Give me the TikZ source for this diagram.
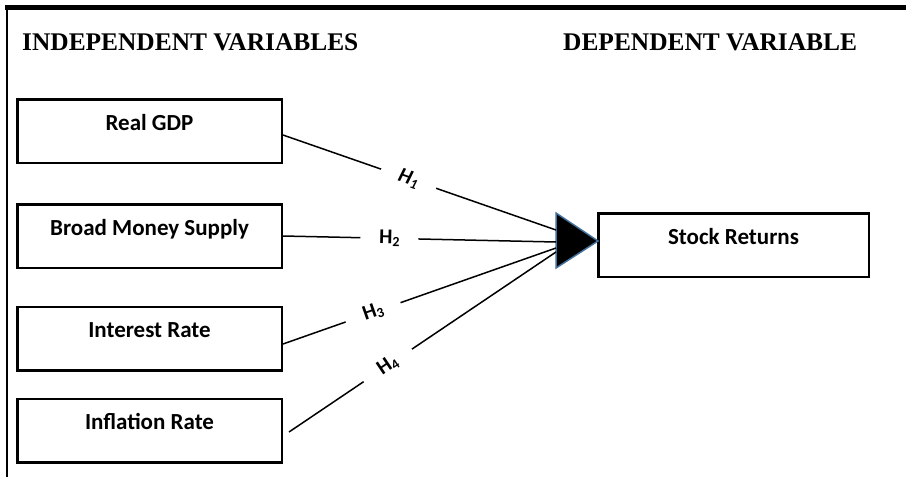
\documentclass[tikz,border=0pt]{standalone}
\usepackage{fontspec}
\setmainfont{Liberation Serif}
\newfontfamily\calfont{Carlito}
\definecolor{tribl}{HTML}{41719C}
\newcommand\hsub[1]{\raisebox{-2.5pt}{\fontsize{14}{14}\selectfont #1}}
\begin{document}
\begin{tikzpicture}[x=1pt,y=-1pt,
  varbox/.style={draw, line width=2.5pt, minimum width=264.5pt, inner xsep=0pt, inner ysep=0pt,
    text height=31pt, text depth=32.5pt, font=\calfont\bfseries\fontsize{23}{27}\selectfont},
  link/.style={line width=1.5pt},
  hlab/.style={fill=white, sloped, minimum width=58pt, inner ysep=1pt,
    font=\calfont\bfseries\fontsize{21}{25}\selectfont},
  head/.style={anchor=base west, inner sep=0pt, font=\bfseries\fontsize{25.4}{30}\selectfont}]
\useasboundingbox (0,0) rectangle (906,477);
% frame
\draw[line width=4.5pt] (5,7.5) -- (906,7.5);
\draw[line width=1.5pt] (7,7.5) -- (7,477);
% headers
\node[head] (hi) at (22,50) {INDEPENDENT VARIABLES};
\node[head] (hd) at (563,50) {DEPENDENT VARIABLE};
% boxes
\node[varbox] (rg) at (149.5,131) {Real GDP};
\node[varbox] (bm) at (149.5,236) {Broad Money Supply};
\node[varbox] (ir) at (149.5,338.5) {Interest Rate};
\node[varbox] (inf) at (149.5,430.5) {Inflation Rate};
\node[varbox, minimum width=270.5pt] (sr) at (733.5,245) {Stock Returns};
% triangle
\coordinate (ta) at (556,213);
\coordinate (tb) at (556,268);
\coordinate (tc) at (598,241);
\draw[fill=black, draw=tribl, line width=1.5pt, line join=miter] (ta) -- (tc) -- (tb) -- cycle;
% connector ends
\coordinate (e1) at (556,230);
\coordinate (e2) at (556,242);
\coordinate (e3) at (556,248);
\coordinate (e4) at (556,252);
\draw[link] ([yshift=-4pt]rg.east) -- node[hlab, pos=0.46] {\itshape H\hsub{1}} (e1);
\draw[link] (bm.east) -- node[hlab, pos=0.39] {H\hsub{2}} (e2);
\draw[link] ([yshift=-5.5pt]ir.east) -- node[hlab, pos=0.33] {H\hsub{3}} (e3);
\draw[link] ([xshift=6pt,yshift=-1.5pt]inf.east) -- node[hlab, pos=0.37] {H\hsub{4}} (e4);
\end{tikzpicture}
\end{document}
